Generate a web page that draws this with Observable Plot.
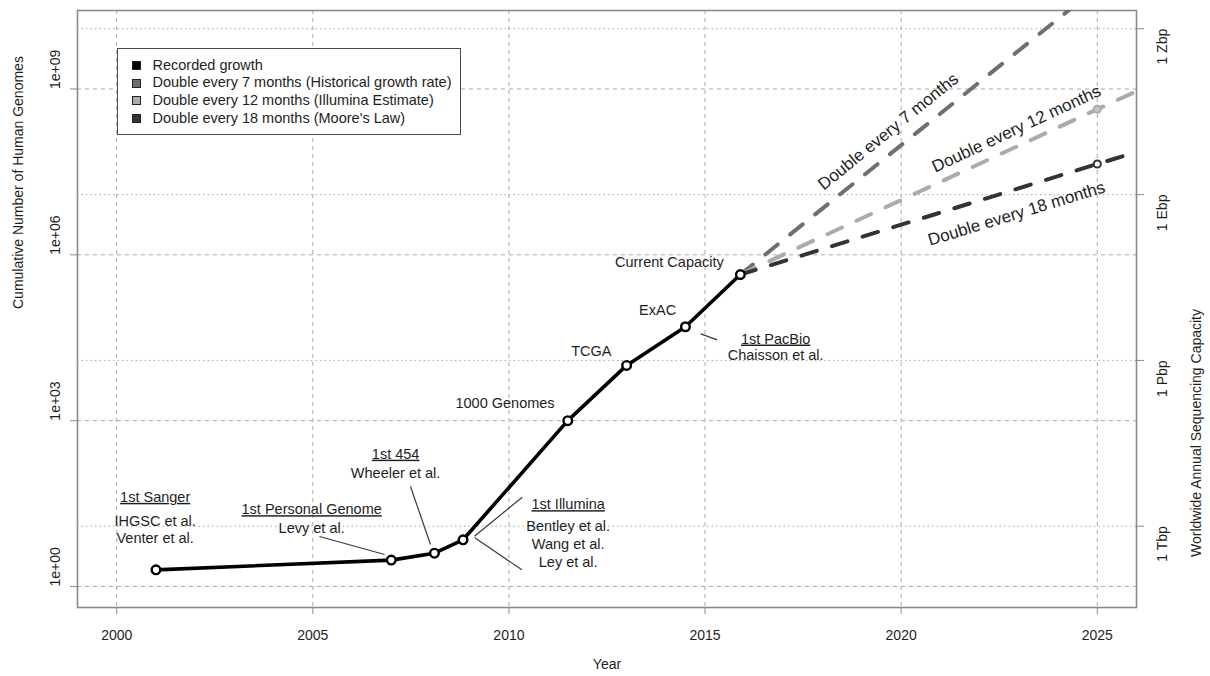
<!DOCTYPE html>
<html>
<head>
<meta charset="utf-8">
<script src="https://cdn.jsdelivr.net/npm/d3@7"></script>
<script src="https://cdn.jsdelivr.net/npm/@observablehq/plot@0.6"></script>
<style>
  body { margin: 0; background: #fff; font-family: "Liberation Sans", Arial, Helvetica, sans-serif; }
  #chart { position: relative; width: 1210px; height: 676px; }
  #chart svg text.ul { text-decoration: underline; }
  .legend {
    position: absolute; left: 117px; top: 48px; width: 342px; height: 85px;
    border: 1.5px solid #4a4a4a; background: #fff; font-size: 14.5px; color: #1e1e1e;
  }
  .legend .row { position: absolute; left: 0; height: 17.6px; line-height: 17.6px; white-space: nowrap; }
  .legend .sw { position: absolute; left: 14px; top: 4.3px; width: 9px; height: 9px; box-sizing: border-box; border: 1px solid #222; }
  .legend .lab { position: absolute; left: 34.5px; top: 0; }
</style>
</head>
<body>
<div id="chart"></div>
<script>
// Recorded growth: cumulative number of sequenced human genomes
const years   = [2001, 2007, 2008.1, 2008.83, 2011.5, 2013, 2014.5, 2015.9];
const genomes = [2, 3, 4, 7, 1000, 10000, 50000, 440000];

// Projected growth from current capacity
const projYears = [2015.9, 2025, 2026];
const double7   = [440000, 6.9e10, 2.6e11];
const double12  = [440000, 4.3e8, 9.1e8];
const double18  = [440000, 4.4e7, 7.2e7];

// Axes
const xTicks = [2000, 2005, 2010, 2015, 2020, 2025];
const yTicks = [1, 1e3, 1e6, 1e9];
const yTickLabels = ["1e+00", "1e+03", "1e+06", "1e+09"];
const capTicks = [12.3, 1.23e4, 1.23e7, 1.23e10];
const capTickLabels = ["1 Tbp", "1 Pbp", "1 Ebp", "1 Zbp"];

// Legend
const legendLabels = [
  "Recorded growth",
  "Double every 7 months (Historical growth rate)",
  "Double every 12 months (Illumina Estimate)",
  "Double every 18 months (Moore's Law)"
];
const legendColors = ["#000000", "#6f6f6f", "#ababab", "#333333"];

// Milestone annotations (year, log10 of genome count, text)
const noteYears = [2000.98, 2000.98, 2000.98, 2004.97, 2004.97, 2007.11, 2007.11,
                   2011.51, 2011.51, 2011.51, 2011.51, 2009.9, 2012.1, 2013.79, 2014.09, 2016.8, 2016.8];
const noteExps  = [1.615, 1.181, 0.863, 1.392, 1.054, 2.396, 2.038,
                   1.483, 1.085, 0.759, 0.434, 3.304, 4.255, 5.004, 5.864, 4.479, 4.177];
const noteTexts = ["1st Sanger", "IHGSC et al.", "Venter et al.", "1st Personal Genome", "Levy et al.",
                   "1st 454", "Wheeler et al.", "1st Illumina", "Bentley et al.", "Wang et al.", "Ley et al.",
                   "1000 Genomes", "TCGA", "ExAC", "Current Capacity", "1st PacBio", "Chaisson et al."];
const underlined = new Set(["1st Sanger", "1st Personal Genome", "1st 454", "1st Illumina", "1st PacBio"]);

// Leader lines from labels to milestones (year, log10 count)
const leaderX1 = [2005.17, 2007.49, 2009.12, 2009.13, 2014.89];
const leaderE1 = [0.904, 1.808, 0.910, 0.881, 4.570];
const leaderX2 = [2006.83, 2008.0, 2010.34, 2010.33, 2015.31];
const leaderE2 = [0.578, 0.759, 1.615, 0.302, 4.461];

// Projection line labels
const trendLabels = ["Double every 7 months", "Double every 12 months", "Double every 18 months"];
const trendLabelYears = [2019.67, 2022.94, 2022.94];
const trendLabelExps = [8.23, 8.28, 6.745];
const trendLabelAngles = [-39, -25, -17];

const recorded = years.map((year, i) => ({year, value: genomes[i]}));
const series = [double7, double12, double18].map((vals, k) =>
  projYears.map((year, i) => ({year, value: vals[i], k})));
const notes = noteTexts.map((text, i) => ({text, year: noteYears[i], value: 10 ** noteExps[i]}));
const leaders = leaderX1.map((x, i) => ({x1: x, y1: 10 ** leaderE1[i], x2: leaderX2[i], y2: 10 ** leaderE2[i]}));
const trendNotes = trendLabels.map((text, i) => ({text, year: trendLabelYears[i], value: 10 ** trendLabelExps[i], angle: trendLabelAngles[i]}));

const gridColor = "#a9a9a9";
const axisColor = "#8a8a8a";
const inkColor = "#1e1e1e";
const dash = "16,16";

const plot = Plot.plot({
  width: 1210,
  height: 676,
  marginLeft: 77,
  marginRight: 74,
  marginTop: 10,
  marginBottom: 69,
  x: {domain: [1999, 2026]},
  y: {type: "log", domain: [10 ** -0.38, 10 ** 10.42]},
  style: {fontFamily: "'Liberation Sans', Arial, Helvetica, sans-serif", fontSize: "14px", color: inkColor, background: "#fff"},
  marks: [
    Plot.gridX(xTicks, {stroke: gridColor, strokeOpacity: 1, strokeDasharray: "4,4"}),
    Plot.gridY(yTicks, {stroke: gridColor, strokeOpacity: 1, strokeDasharray: "4,4"}),
    Plot.gridY(capTicks, {stroke: gridColor, strokeOpacity: 1, strokeDasharray: "1.5,3"}),
    Plot.frame({stroke: axisColor, strokeWidth: 1.6}),
    Plot.axisX(xTicks, {anchor: "bottom", tickSize: 7, tickPadding: 16, stroke: axisColor, fill: inkColor, tickFormat: d => String(d), label: null}),
    Plot.axisY(yTicks, {anchor: "left", tickSize: 7, stroke: axisColor, tickFormat: () => "", label: null}),
    Plot.axisY(capTicks, {anchor: "right", tickSize: 7, stroke: axisColor, tickFormat: () => "", label: null}),
    Plot.text(yTicks, {y: d => d, text: d => yTickLabels[yTicks.indexOf(d)], frameAnchor: "left", dx: -22, rotate: -90, fill: inkColor}),
    Plot.text(capTicks, {y: d => d, text: d => capTickLabels[capTicks.indexOf(d)], frameAnchor: "right", dx: 26, rotate: -90, fill: inkColor}),
    Plot.text(["Year"], {text: d => d, frameAnchor: "bottom", dy: 61, fill: inkColor}),
    Plot.text(["Cumulative Number of Human Genomes"], {text: d => d, frameAnchor: "left", dx: -59, rotate: -90, fill: inkColor}),
    Plot.text(["Worldwide Annual Sequencing Capacity"], {text: d => d, frameAnchor: "right", dx: 60, rotate: -90, fill: inkColor}),

    // projections
    Plot.line(series[0], {x: "year", y: "value", stroke: legendColors[1], strokeWidth: 4, strokeDasharray: dash, strokeLinecap: "round", clip: true}),
    Plot.line(series[1], {x: "year", y: "value", stroke: legendColors[2], strokeWidth: 4, strokeDasharray: dash, strokeLinecap: "round", clip: true}),
    Plot.line(series[2], {x: "year", y: "value", stroke: legendColors[3], strokeWidth: 4, strokeDasharray: dash, strokeLinecap: "round", clip: true}),
    Plot.dot(series.flat().filter(d => d.year === 2025), {x: "year", y: "value", r: 3.6, stroke: d => legendColors[d.k + 1], fill: d => d.k === 1 ? "#c4c4c4" : "#fff", strokeWidth: 2, clip: true}),

    // recorded growth
    Plot.line(recorded, {x: "year", y: "value", stroke: "#000", strokeWidth: 3.6}),
    Plot.dot(recorded, {x: "year", y: "value", r: 4.3, stroke: "#000", strokeWidth: 2.4, fill: "#fff"}),

    // annotations
    Plot.link(leaders, {x1: "x1", y1: "y1", x2: "x2", y2: "y2", stroke: "#3a3a3a", strokeWidth: 1.2}),
    Plot.text(notes, {x: "year", y: "value", text: "text", fontSize: 14.5, fill: inkColor}),
    Plot.text(trendNotes, {x: "year", y: "value", text: "text", rotate: "angle", fontSize: 17, fill: inkColor})
  ]
});

const chart = document.getElementById("chart");
chart.appendChild(plot);

d3.select(plot).selectAll("text")
  .filter(function () { return underlined.has(this.textContent); })
  .classed("ul", true);

// legend box
const legend = d3.select(chart).append("div").attr("class", "legend");
legendLabels.forEach((label, i) => {
  const row = legend.append("div").attr("class", "row").style("top", (7.8 + i * 17.6) + "px");
  row.append("span").attr("class", "sw").style("background", legendColors[i]);
  row.append("span").attr("class", "lab").text(label);
});
</script>
</body>
</html>
